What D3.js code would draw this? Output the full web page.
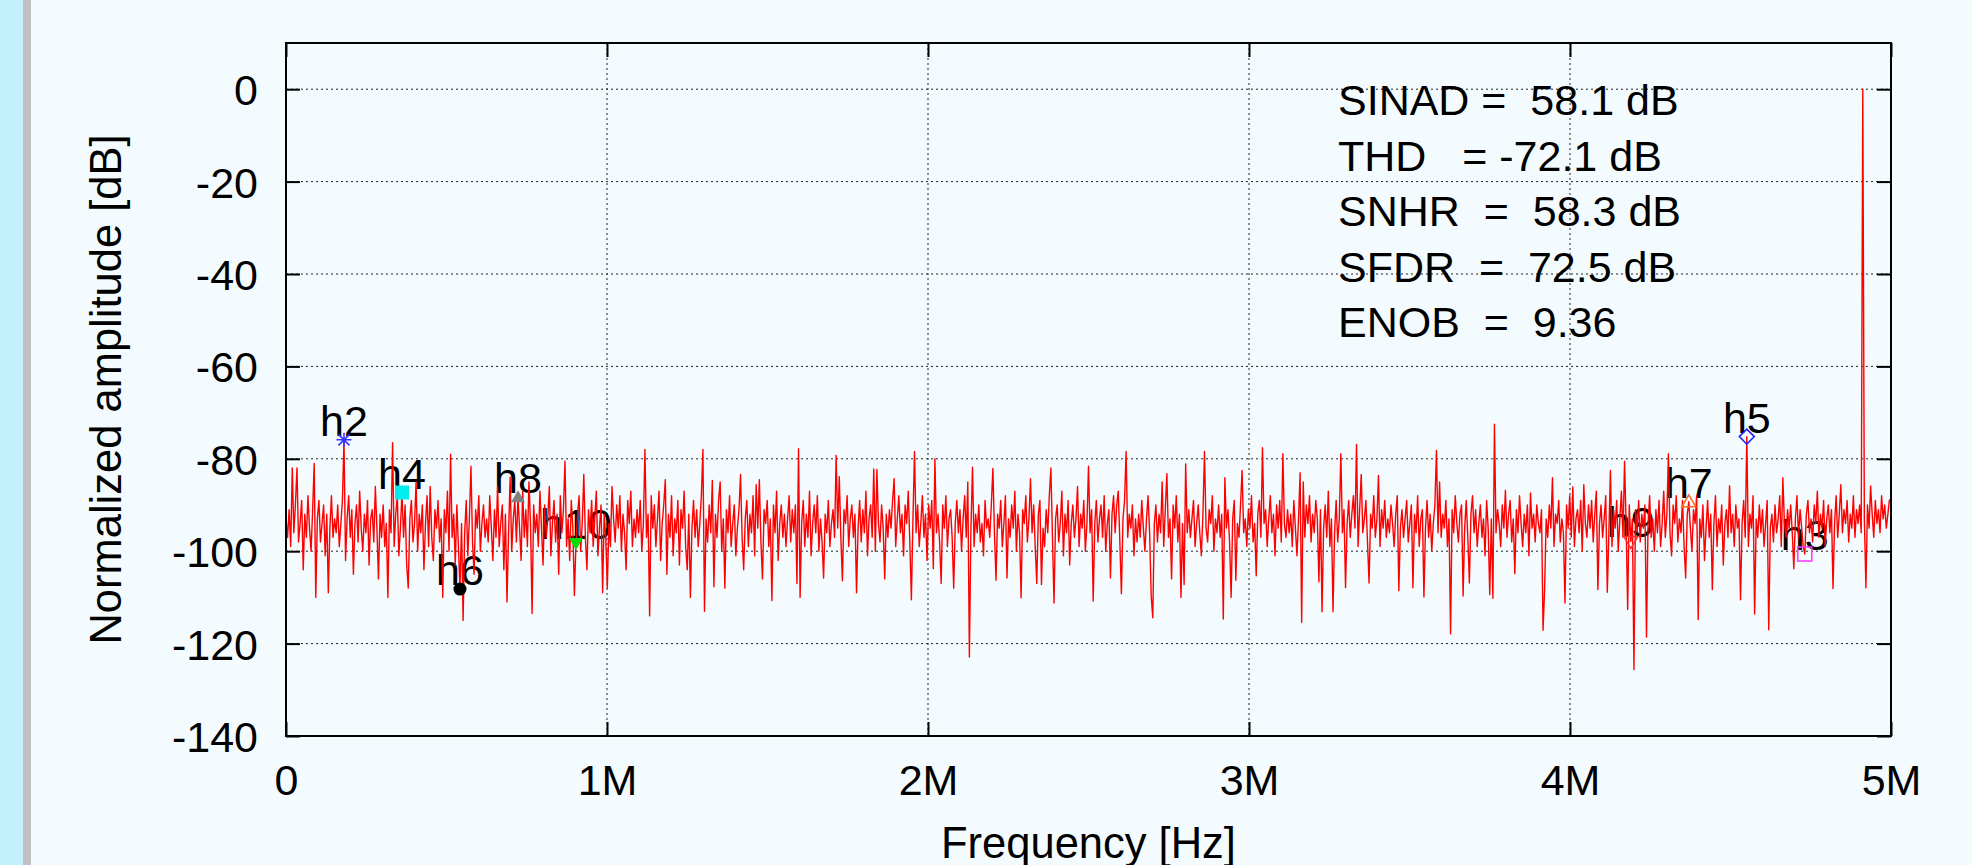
<!DOCTYPE html>
<html>
<head>
<meta charset="utf-8">
<script src="https://cdn.jsdelivr.net/npm/d3@7"></script>
<style>
  html, body { margin: 0; padding: 0; background: #f4fbfe; }
  svg { display: block; }
  text { font-family: "Liberation Sans", Arial, Helvetica, sans-serif; fill: #000; }
</style>
</head>
<body>
<svg id="chart"></svg>
<script>
// spectrum bins: bin k sits at k * binHz (Nyquist = 5 MHz)
const binHz = 5e6 / 1024;

// normalized amplitude [dB] per bin
const spectrumDb = [
  -93,-97,-91,-99,-82,-96,-90,-82,-98,-94,-89,-104,-92,-97,-88,-95,-100,-91,-81,-110,-93,-89,-98,-94,-90,-101,-92,-109,-95,-88,-97,-93,
  -96,-90,-99,-94,-89,-75.9,-102,-93,-88,-97,-91,-105,-94,-90,-98,-87,-95,-100,-92,-96,-89,-103,-93,-91,-98,-86,-95,-106,-92,-97,-90,-99,
  -94,-110,-91,-96,-76.5,-99,-92,-88,-101,-95,-87.3,-97,-90,-103,-108,-93,-89,-98,-94,-85,-100,-92,-96,-90,-104,-94,-88,-99,-86,-97,-102,-91,
  -95,-89,-98,-93,-110,-91,-96,-87,-100,-79,-97,-92,-103,-90,-99,-108.2,-94,-115,-96,-89,-101,-93,-81.6,-98,-105,-91,-95,-88,-100,-94,-90,-97,
  -93,-98,-88,-95,-102,-91,-97,-86,-99,-94,-90,-104,-92,-111,-96,-84,-100,-93,-89,-98,-88.3,-95,-102,-87,-97,-91,-99,-85,-94,-113.5,-90,-96,
  -92,-99,-87,-95,-103,-90,-97,-93,-86,-101,-94,-89,-98,-92,-105,-88,-96,-91,-80.5,-99,-93,-102,-89,-95,-109.6,-98.2,-92,-88,-100,-94,-83.4,-97,
  -104,-91,-96,-89,-99,-93,-87,-101,-95,-90,-109,-92,-97,-108,-94,-99,-86,-93,-98,-90,-95,-88,-100,-92,-96,-104,-89,-94,-87,-99,-93,-97,
  -91,-96,-89,-100,-94,-78,-97,-92,-114,-88,-95,-90,-99,-93,-87,-102,-94,-90,-84.5,-105,-92,-97,-88,-101,-93,-96,-89,-103,-91,-95,-87,-99,
  -104,-92,-110,-95,-89,-97,-91,-99,-94,-88,-78,-113,-93,-98,-90,-96,-84.7,-107.7,-92,-97,-89,-85,-100,-93,-108,-91,-96,-88,-99,-94,-90,-101,
  -95,-91,-83.4,-97,-104,-93,-89,-99,-92,-96,-88,-101,-85.6,-95,-84.5,-98,-106,-91,-94,-89,-99,-93,-110.7,-90,-96,-87,-102,-94,-90,-97,-92,-99,
  -93,-88,-98,-91,-96,-90,-107,-77.8,-110,-94,-89,-99,-92,-97,-87,-101,-94,-90,-96,-88,-100,-93,-98,-105.8,-92,-96,-89,-99,-94,-91,-97,-79.3,
  -95,-83.9,-97,-106.4,-91,-94,-88,-99,-93,-90,-97,-92,-109,-95,-89,-98,-91,-96,-87,-101,-93,-90,-97,-82.2,-100,-82.3,-94,-98,-90,-95,-106,-92,
  -97,-91,-95,-89,-84.3,-99,-93,-88,-96,-92,-101,-90,-94,-87,-98,-110.5,-93,-78.4,-96,-90,-99,-94,-88,-97,-92,-102,-90,-95,-89,-103.8,-80,-96,
  -92,-98,-107,-90,-95,-88,-99,-93,-91,-97,-108,-94,-89,-96,-91,-100,-93,-88,-97,-85,-122.9,-95,-81.8,-99,-92,-96,-90,-98,-94,-101,-89,-95,
  -93,-97,-90,-82.1,-96,-106.3,-92,-95,-89,-99,-94,-88,-105.8,-93,-97,-90,-95,-87,-100,-92,-96,-110.1,-91,-94,-88,-98,-93,-84.3,-96,-90,-99,-107,
  -92,-89,-107.2,-95,-99,-91,-96,-88,-82,-97,-111.2,-93,-90,-98,-94,-87,-101,-92,-96,-89,-103,-94,-90,-97,-93,-86,-99,-92,-95,-89,-100,-94,
  -81.6,-96,-91,-110.8,-94,-89,-98,-93,-90,-97,-88,-100,-94,-91,-105.8,-92,-88,-96,-90,-87,-98,-109.2,-93,-89,-78.4,-97,-92,-95,-90,-101,-93,-98,
  -92,-97,-89,-95,-100,-93,-88,-96,-109.7,-114.4,-94,-90,-98,-92,-96,-85,-99,-91,-83.2,-97,-93,-106,-90,-95,-88,-98,-92,-110,-94,-107.2,-81.1,-96,
  -91,-97,-93,-89,-99,-94,-90,-96,-101,-92,-78.4,-95,-98,-91,-94,-88,-100,-93,-96,-90,-97,-92,-114.7,-84.1,-95,-91,-98,-110,-93,-89,-106.3,-94,
  -97,-90,-82.5,-96,-93,-99,-91,-95,-88,-98,-94,-105.3,-92,-89,-97,-77.6,-94,-91,-99,-93,-88,-96,-92,-101,-90,-95,-89,-98,-78.9,-94,-97,-91,
  -96,-92,-99,-89,-95,-101,-93,-83,-115.4,-85,-97,-90,-94,-88,-98,-92,-96,-89,-93,-106.6,-91,-113.1,-95,-90,-97,-87,-99,-93,-113.1,-96,-89,-98,
  -93,-78.9,-96,-91,-107.9,-94,-89,-97,-92,-88,-95,-76.9,-99,-91,-83.4,-96,-93,-89,-98,-106.9,-92,-95,-88,-97,-93,-83.6,-99,-91,-95,-89,-97,-93,
  -96,-90,-94,-99,-92,-88,-108.5,-95,-91,-97,-93,-89,-98,-94,-90,-107.9,-92,-96,-88,-99,-93,-91,-109.9,-95,-89,-97,-92,-100,-94,-90,-78.2,-96,
  -85,-97,-92,-95,-89,-99,-93,-117.9,-91,-96,-88,-94,-98,-92,-90,-109.7,-95,-89,-97,-106.9,-92,-88,-96,-91,-99,-94,-90,-97,-93,-101,-89,-95,
  -109.4,-93,-110.2,-72.5,-96,-91,-94,-99,-90,-95,-86.8,-97,-92,-89,-98,-93,-104.9,-91,-96,-88,-94,-99,-92,-96,-90,-101,-87.4,-95,-92,-98,-90,-94,
  -96,-91,-117.1,-108.3,-93,-97,-90,-95,-84.1,-99,-92,-94,-89,-98,-93,-96,-111.2,-90,-95,-88,-97,-86.1,-99,-93,-91,-96,-89,-100,-85.6,-94,-97,-90,
  -95,-89,-98,-92,-87,-108.3,-94,-90,-97,-93,-88,-108.9,-96,-82.5,-99,-91,-95,-89,-100,-93,-87,-97,-80.5,-94,-112.6,-90,-97.9,-93,-125.6,-91,-96,-89,
  -98,-92,-95,-90,-118.6,-94,-88,-97,-93,-100,-91,-96,-89,-99,-94,-87,-97,-92,-78.9,-96,-101,-90,-94,-88,-98,-93,-96,-89,-99,-105.8,-92,-89.3,
  -95,-100,-91,-94,-88,-114.8,-93,-97,-90,-102,-95,-89,-97,-92,-108.3,-94,-88,-99,-93,-96,-90,-103,-94,-91,-97,-85.8,-96,-92,-99,-90,-95,-93,
  -110.5,-94,-89,-97,-75.2,-99,-92,-95,-88,-113.6,-93,-97,-90,-96,-91,-99,-94,-89,-117,-95,-92,-98,-90,-96,-93,-88,-99,-84.1,-94,-97,-91,-95,
  -90,-96,-103.8,-93,-88,-97,-91,-95,-99,-100.6,-92,-89,-96,-93,-98,-90,-94,-87,-97,-92,-95,-89,-99,-93,-90,-96,-91,-108.1,-94,-88,-97,-92,
  -85.6,-96,-91,-94,-89,-98,-92,-95,-88,-97,-91,-94,-90,-96,0,-93,-107.9,-90,-95,-85.9,-92,-97,-89,-94,-91,-96,-88,-93,-90,-95,-92,-88.8
];

// harmonics h2..h10 (aliased) and the bin each one falls on
const harmonicNames = ['h2', 'h3', 'h4', 'h5', 'h6', 'h7', 'h8', 'h9', 'h10'];
const harmonicBins = [37, 969, 74, 932, 111, 895, 148, 858, 185];

const xTicks = [0, 1e6, 2e6, 3e6, 4e6, 5e6];
const xTickLabels = ['0', '1M', '2M', '3M', '4M', '5M'];
const yTicks = [0, -20, -40, -60, -80, -100, -120, -140];

const statLines = [
  'SINAD =  58.1 dB',
  'THD   = -72.1 dB',
  'SNHR  =  58.3 dB',
  'SFDR  =  72.5 dB',
  'ENOB  =  9.36'
];

// ---- styles
const markerStyle = {
  h2:  {shape: 'asterisk',   color: '#3333ff'},
  h3:  {shape: 'square',     color: '#ff33ff', open: true},
  h4:  {shape: 'square',     color: '#00eeee'},
  h5:  {shape: 'diamond',    color: '#2222ff', open: true},
  h6:  {shape: 'circle',     color: '#000000'},
  h7:  {shape: 'triangle',   color: '#ff6a1a', open: true},
  h8:  {shape: 'triangle',   color: '#808080'},
  h9:  {shape: 'invtriangle', color: '#ff3333', open: true},
  h10: {shape: 'invtriangle', color: '#00dd00'}
};

const shapePaths = {
  asterisk: 'M-7.5,0H7.5M0,-7V7M-5.5,-5.5L5.5,5.5M-5.5,5.5L5.5,-5.5',
  square: 'M-7,-7H7V7H-7Z',
  diamond: 'M0,-7.5L7.5,0L0,7.5L-7.5,0Z',
  circle: 'M-6.5,0A6.5,6.5 0 1,0 6.5,0A6.5,6.5 0 1,0 -6.5,0Z',
  triangle: 'M0,-7L7,5H-7Z',
  invtriangle: 'M0,7L7,-5H-7Z'
};

const width = 1972, height = 865;
const plot = {left: 286, right: 1891, top: 43, bottom: 736};
const fontSize = 43;

const svg = d3.select('#chart')
    .attr('width', width)
    .attr('height', height);

svg.append('rect')
    .attr('width', width).attr('height', height)
    .attr('fill', '#f4fbfe');

// left edge strips
svg.append('rect')
    .attr('x', 0).attr('width', 23).attr('height', height)
    .attr('fill', '#c2f0fc');
svg.append('rect')
    .attr('x', 23).attr('width', 8).attr('height', height)
    .attr('fill', '#bfbfc4');

const xScale = d3.scaleLinear()
    .domain([0, 5e6])
    .range([plot.left, plot.right]);
const yScale = d3.scaleLinear()
    .domain([-140, 10])
    .range([plot.bottom, plot.top]);

// grid
const grid = svg.append('g')
    .attr('stroke', '#222')
    .attr('stroke-width', 1)
    .attr('stroke-dasharray', '2,3');

grid.selectAll('.gx')
    .data(xTicks.slice(1, -1))
    .join('line')
    .attr('class', 'gx')
    .attr('x1', d => xScale(d)).attr('x2', d => xScale(d))
    .attr('y1', plot.top).attr('y2', plot.bottom);

grid.selectAll('.gy')
    .data(yTicks.slice(0, -1))
    .join('line')
    .attr('class', 'gy')
    .attr('x1', plot.left).attr('x2', plot.right)
    .attr('y1', d => yScale(d)).attr('y2', d => yScale(d));

// harmonic labels sit behind the trace
const harmonics = harmonicNames.map((name, i) => ({
  name: name,
  freq: harmonicBins[i] * binHz,
  db: spectrumDb[harmonicBins[i]]
}));

svg.append('g')
    .selectAll('text')
    .data(harmonics)
    .join('text')
    .attr('x', d => xScale(d.freq))
    .attr('y', d => yScale(d.db) - 4)
    .attr('text-anchor', 'middle')
    .attr('font-size', fontSize)
    .text(d => d.name);

// spectrum trace
const line = d3.line()
    .x((d, i) => xScale(i * binHz))
    .y(d => yScale(d));

svg.append('path')
    .datum(spectrumDb)
    .attr('fill', 'none')
    .attr('stroke', '#ff0000')
    .attr('stroke-width', 1.4)
    .attr('stroke-linejoin', 'round')
    .attr('d', line);

// harmonic markers
svg.append('g')
    .selectAll('path')
    .data(harmonics)
    .join('path')
    .attr('transform', d => `translate(${xScale(d.freq)},${yScale(d.db)})`)
    .attr('d', d => shapePaths[markerStyle[d.name].shape])
    .attr('fill', d => {
      const s = markerStyle[d.name];
      return (s.open || s.shape === 'asterisk') ? 'none' : s.color;
    })
    .attr('stroke', d => {
      const s = markerStyle[d.name];
      return (s.open || s.shape === 'asterisk') ? s.color : 'none';
    })
    .attr('stroke-width', 1.5);

// axes, ticks point inward on all four sides
function styleAxis(g) {
  g.select('.domain').remove();
  g.attr('font-size', fontSize)
   .attr('font-family', '"Liberation Sans", Arial, Helvetica, sans-serif');
  g.selectAll('.tick line').attr('stroke', '#000').attr('stroke-width', 2);
  g.selectAll('.tick text').attr('fill', '#000');
}

const yAxisG = svg.append('g')
    .attr('transform', `translate(${plot.left},0)`)
    .call(d3.axisLeft(yScale)
        .tickValues(yTicks)
        .tickFormat(d => String(d))
        .tickSize(-14)
        .tickSizeOuter(0)
        .tickPadding(28))
    .call(styleAxis);
yAxisG.selectAll('.tick text').attr('dy', '0.36em');

svg.append('g')
    .attr('transform', `translate(0,${plot.bottom})`)
    .call(d3.axisBottom(xScale)
        .tickValues(xTicks)
        .tickFormat((d, i) => xTickLabels[i])
        .tickSize(-14)
        .tickSizeOuter(0)
        .tickPadding(28.5))
    .call(styleAxis);

svg.append('g')
    .attr('transform', `translate(0,${plot.top})`)
    .call(d3.axisTop(xScale).tickValues(xTicks).tickFormat('').tickSize(-14).tickSizeOuter(0))
    .call(styleAxis);

svg.append('g')
    .attr('transform', `translate(${plot.right},0)`)
    .call(d3.axisRight(yScale).tickValues(yTicks).tickFormat('').tickSize(-14).tickSizeOuter(0))
    .call(styleAxis);

// plot border
svg.append('rect')
    .attr('x', plot.left).attr('y', plot.top)
    .attr('width', plot.right - plot.left)
    .attr('height', plot.bottom - plot.top)
    .attr('fill', 'none')
    .attr('stroke', '#000')
    .attr('stroke-width', 2);

// axis titles
svg.append('text')
    .attr('x', (plot.left + plot.right) / 2)
    .attr('y', 858)
    .attr('text-anchor', 'middle')
    .attr('font-size', 43.5)
    .text('Frequency [Hz]');

svg.append('text')
    .attr('transform', `translate(120.5,${(plot.top + plot.bottom) / 2}) rotate(-90)`)
    .attr('text-anchor', 'middle')
    .attr('font-size', 43.5)
    .text('Normalized amplitude [dB]');

// measurement summary
svg.append('g')
    .selectAll('text')
    .data(statLines)
    .join('text')
    .attr('x', 1338)
    .attr('y', (d, i) => 115 + i * 55.5)
    .attr('font-size', fontSize)
    .style('white-space', 'pre')
    .text(d => d);
</script>
</body>
</html>
